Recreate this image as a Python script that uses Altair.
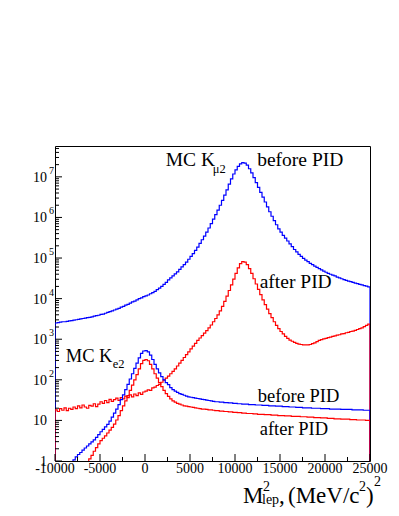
import altair as alt
import pandas as pd

# ---------------- data (log10 of counts per 250-unit bin) -------------
X_MIN, X_MAX, BIN_W = -10000, 25000, 250

kmu2_before = [
    3.40, 3.41, 3.42, 3.43, 3.43, 3.44, 3.45, 3.46, 3.47, 3.48,
    3.49, 3.50, 3.51, 3.52, 3.53, 3.54, 3.55, 3.57, 3.58, 3.59,
    3.61, 3.62, 3.64, 3.66, 3.68, 3.70, 3.72, 3.74, 3.76, 3.79,
    3.81, 3.84, 3.86, 3.89, 3.92, 3.94, 3.97, 4.00, 4.02, 4.05,
    4.07, 4.09, 4.12, 4.15, 4.18, 4.22, 4.26, 4.30, 4.35, 4.40,
    4.46, 4.51, 4.56, 4.61, 4.66, 4.72, 4.78, 4.84, 4.90, 4.97,
    5.04, 5.11, 5.19, 5.27, 5.36, 5.45, 5.54, 5.64, 5.74, 5.85,
    5.96, 6.07, 6.18, 6.30, 6.42, 6.55, 6.68, 6.82, 6.95, 7.07,
    7.17, 7.26, 7.32, 7.35, 7.34, 7.29, 7.20, 7.10, 6.98, 6.86,
    6.74, 6.62, 6.50, 6.38, 6.26, 6.14, 6.03, 5.92, 5.82, 5.72,
    5.64, 5.56, 5.49, 5.42, 5.35, 5.28, 5.21, 5.15, 5.09, 5.04,
    4.99, 4.95, 4.91, 4.87, 4.84, 4.80, 4.77, 4.74, 4.71, 4.68,
    4.65, 4.62, 4.60, 4.58, 4.56, 4.53, 4.51, 4.49, 4.47, 4.45,
    4.43, 4.42, 4.40, 4.38, 4.37, 4.35, 4.34, 4.32, 4.31, 4.29,
]

kmu2_after = [
    1.26, 1.22, 1.29, 1.25, 1.31, 1.24, 1.30, 1.27, 1.33, 1.29,
    1.36, 1.31, 1.38, 1.33, 1.30, 1.37, 1.35, 1.41, 1.34, 1.40,
    1.46, 1.42, 1.49, 1.44, 1.52, 1.47, 1.51, 1.55, 1.49, 1.56,
    1.53, 1.60, 1.56, 1.63, 1.58, 1.65, 1.61, 1.68, 1.64, 1.70,
    1.72, 1.75, 1.74, 1.80, 1.82, 1.86, 1.89, 1.94, 1.99, 2.04,
    2.09, 2.15, 2.21, 2.27, 2.34, 2.41, 2.48, 2.55, 2.62, 2.69,
    2.76, 2.83, 2.90, 2.97, 3.03, 3.09, 3.15, 3.21, 3.28, 3.35,
    3.43, 3.51, 3.60, 3.70, 3.81, 3.93, 4.06, 4.20, 4.34, 4.48,
    4.62, 4.76, 4.86, 4.91, 4.90, 4.84, 4.74, 4.62, 4.49, 4.36,
    4.23, 4.10, 3.97, 3.85, 3.74, 3.63, 3.53, 3.43, 3.34, 3.26,
    3.19, 3.13, 3.07, 3.02, 2.98, 2.95, 2.92, 2.90, 2.88, 2.87,
    2.86, 2.86, 2.86, 2.87, 2.89, 2.91, 2.94, 2.97, 2.99, 3.01,
    3.02, 3.04, 3.05, 3.07, 3.08, 3.10, 3.11, 3.13, 3.14, 3.16,
    3.17, 3.19, 3.20, 3.22, 3.24, 3.26, 3.28, 3.31, 3.34, 3.37,
]

ke2_before = [
    -0.3, -0.3, -0.3, -0.3, -0.3, -0.3, -0.3, -0.3, 0.03, 0.10,
    0.16, 0.21, 0.27, 0.32, 0.37, 0.42, 0.47, 0.52, 0.58, 0.65,
    0.72, 0.78, 0.84, 0.90, 0.98, 1.08, 1.18, 1.28, 1.39, 1.51,
    1.63, 1.76, 1.89, 2.02, 2.15, 2.28, 2.41, 2.54, 2.65, 2.71,
    2.72, 2.69, 2.61, 2.50, 2.38, 2.27, 2.17, 2.08, 2.00, 1.93,
    1.88, 1.81, 1.76, 1.72, 1.69, 1.66, 1.64, 1.62, 1.60, 1.58,
    1.57, 1.56, 1.55, 1.54, 1.53, 1.52, 1.51, 1.50, 1.49, 1.48,
    1.47, 1.46, 1.46, 1.45, 1.45, 1.44, 1.44, 1.43, 1.43, 1.42,
    1.42, 1.41, 1.41, 1.40, 1.40, 1.40, 1.39, 1.39, 1.39, 1.38,
    1.38, 1.38, 1.37, 1.37, 1.37, 1.36, 1.36, 1.36, 1.35, 1.35,
    1.35, 1.34, 1.34, 1.34, 1.33, 1.33, 1.33, 1.32, 1.32, 1.32,
    1.31, 1.31, 1.31, 1.31, 1.30, 1.30, 1.30, 1.30, 1.29, 1.29,
    1.29, 1.29, 1.28, 1.28, 1.28, 1.28, 1.28, 1.27, 1.27, 1.27,
    1.27, 1.27, 1.26, 1.26, 1.26, 1.26, 1.26, 1.25, 1.25, 1.25,
]

ke2_after = [
    -0.3, -0.3, -0.3, -0.3, -0.3, -0.3, -0.3, -0.3, -0.3, -0.3,
    -0.3, -0.3, -0.3, -0.3, -0.3, 0.05, 0.14, 0.24, 0.33, 0.42,
    0.50, 0.56, 0.62, 0.69, 0.76, 0.83, 0.91, 1.01, 1.12, 1.24,
    1.36, 1.48, 1.61, 1.74, 1.87, 2.00, 2.13, 2.27, 2.40, 2.48,
    2.50, 2.47, 2.38, 2.27, 2.15, 2.04, 1.93, 1.83, 1.74, 1.66,
    1.59, 1.53, 1.48, 1.45, 1.42, 1.40, 1.38, 1.36, 1.35, 1.34,
    1.33, 1.32, 1.31, 1.30, 1.29, 1.28, 1.28, 1.27, 1.26, 1.26,
    1.25, 1.24, 1.24, 1.23, 1.23, 1.22, 1.22, 1.21, 1.21, 1.20,
    1.20, 1.19, 1.19, 1.18, 1.18, 1.17, 1.17, 1.17, 1.16, 1.16,
    1.15, 1.15, 1.15, 1.14, 1.14, 1.14, 1.13, 1.13, 1.13, 1.12,
    1.12, 1.12, 1.11, 1.11, 1.11, 1.10, 1.10, 1.10, 1.10, 1.09,
    1.09, 1.09, 1.08, 1.08, 1.08, 1.07, 1.07, 1.07, 1.06, 1.06,
    1.06, 1.05, 1.05, 1.05, 1.04, 1.04, 1.04, 1.03, 1.03, 1.03,
    1.03, 1.02, 1.02, 1.02, 1.01, 1.01, 1.01, 1.01, 1.00, 1.00,
]

x_label_values = [-10000, -5000, 0, 5000, 10000, 15000, 20000, 25000]
y_decades = [0, 1, 2, 3, 4, 5, 6, 7]
y_base_labels = ["1", "10", "10", "10", "10", "10", "10", "10"]
y_exp_labels = ["", "", "2", "3", "4", "5", "6", "7"]

# upper annotations (K mu2)
ann_up_text = ["MC K", "before PID", "after PID"]
ann_up_x = [2300, 12467, 12744]
ann_up_y = [1.85e7, 1.85e7, 1.79e4]
# lower annotations (K e2)
ann_lo_text = ["MC K", "before PID", "after PID"]
ann_lo_x = [-8811, 12522, 12744]
ann_lo_y = [279, 28.4, 4.37]
ann_sub_text = ["\u03bc2", "e2"]
ann_sub_x = [7522, -3589]
ann_sub_y = [1.24e7, 190]

Y_TOP = 10 ** 7.76
FONT = "Liberation Serif"
W, H = 315, 315

# ---------------- build tables ----------------
edges = list(range(X_MIN, X_MAX, BIN_W))


def hist_frame(vals):
    xs_ = [X_MIN] + edges + [X_MAX]
    ys_ = [0.5] + [10 ** v for v in vals] + [0.5]
    return pd.DataFrame({"x": xs_, "y": ys_, "i": list(range(len(xs_)))})


xs = alt.Scale(domain=[X_MIN, X_MAX], nice=False, zero=False)
ys = alt.Scale(type="log", domain=[1, Y_TOP], nice=False)


def hist_layer(vals, color):
    return alt.Chart(hist_frame(vals)).mark_line(
        interpolate="step-after", clip=True, strokeWidth=1.2, color=color
    ).encode(
        x=alt.X("x:Q", scale=xs, axis=None),
        y=alt.Y("y:Q", scale=ys, axis=None),
        order=alt.Order("i:Q"),
    )


# ticks
x_major = pd.DataFrame({"v": x_label_values})
x_minor = pd.DataFrame({"v": [v + 2500 for v in x_label_values[:-1]]})
y_major = pd.DataFrame({"v": [10 ** d for d in y_decades]})
y_minor_vals = []
for d in y_decades:
    for m in range(2, 10):
        val = m * 10 ** d
        if val < Y_TOP:
            y_minor_vals.append(val)
y_minor = pd.DataFrame({"v": y_minor_vals})

xt_major = alt.Chart(x_major).mark_rule(color="black", strokeWidth=1).encode(
    x=alt.X("v:Q", scale=xs, axis=None), y=alt.value(H), y2=alt.value(H - 7))
xt_minor = alt.Chart(x_minor).mark_rule(color="black", strokeWidth=1).encode(
    x=alt.X("v:Q", scale=xs, axis=None), y=alt.value(H), y2=alt.value(H - 4))
yt_major = alt.Chart(y_major).mark_rule(color="black", strokeWidth=1).encode(
    y=alt.Y("v:Q", scale=ys, axis=None), x=alt.value(0), x2=alt.value(7))
yt_minor = alt.Chart(y_minor).mark_rule(color="black", strokeWidth=1).encode(
    y=alt.Y("v:Q", scale=ys, axis=None), x=alt.value(0), x2=alt.value(4))

# tick labels
xlab = alt.Chart(pd.DataFrame({"v": x_label_values, "t": [str(v) for v in x_label_values]})).mark_text(
    font=FONT, fontSize=14, color="black", align="center", baseline="middle"
).encode(x=alt.X("v:Q", scale=xs, axis=None), y=alt.value(H + 8), text="t:N")

ylab_df = pd.DataFrame({"v": [10 ** d for d in y_decades], "b": y_base_labels, "e": y_exp_labels})
ylab = alt.Chart(ylab_df).mark_text(
    font=FONT, fontSize=14, color="black", align="right", baseline="middle", dy=1
).encode(y=alt.Y("v:Q", scale=ys, axis=None), x=alt.value(-8), text="b:N")
yexp = alt.Chart(ylab_df).mark_text(
    font=FONT, fontSize=10, color="black", align="left", baseline="middle", dy=-6
).encode(y=alt.Y("v:Q", scale=ys, axis=None), x=alt.value(-6), text="e:N")

# annotations
ann_up = alt.Chart(pd.DataFrame({"x": ann_up_x, "y": ann_up_y, "t": ann_up_text})).mark_text(
    font=FONT, fontSize=19.5, color="black", align="left", baseline="alphabetic"
).encode(x=alt.X("x:Q", scale=xs, axis=None), y=alt.Y("y:Q", scale=ys, axis=None), text="t:N")
ann_lo = alt.Chart(pd.DataFrame({"x": ann_lo_x, "y": ann_lo_y, "t": ann_lo_text})).mark_text(
    font=FONT, fontSize=18.5, color="black", align="left", baseline="alphabetic"
).encode(x=alt.X("x:Q", scale=xs, axis=None), y=alt.Y("y:Q", scale=ys, axis=None), text="t:N")
ann_sub = alt.Chart(pd.DataFrame({"x": ann_sub_x, "y": ann_sub_y, "t": ann_sub_text})).mark_text(
    font=FONT, fontSize=12.5, color="black", align="left", baseline="alphabetic"
).encode(x=alt.X("x:Q", scale=xs, axis=None), y=alt.Y("y:Q", scale=ys, axis=None), text="t:N")


# x axis title pieces: M^2_lep, (MeV/c^2)^2
def title_piece(text, px, py, size):
    return alt.Chart(pd.DataFrame({"t": [text]})).mark_text(
        font=FONT, fontSize=size, color="black", align="left", baseline="alphabetic"
    ).encode(x=alt.value(px), y=alt.value(py), text="t:N")


title_layers = [
    title_piece("M", 188, 357, 23),
    title_piece("2", 208, 345, 14),
    title_piece("lep", 207, 358, 14),
    title_piece(",", 224, 357, 23),
    title_piece("(MeV/c", 233, 357, 23),
    title_piece("2", 304, 345, 14),
    title_piece(")", 311, 357, 23),
    title_piece("2", 319, 340, 14),
]

chart = alt.layer(
    hist_layer(kmu2_before, "#0000ff"),
    hist_layer(kmu2_after, "#ff0000"),
    hist_layer(ke2_before, "#0000ff"),
    hist_layer(ke2_after, "#ff0000"),
    xt_major, xt_minor, yt_major, yt_minor,
    xlab, ylab, yexp, ann_up, ann_lo, ann_sub,
    *title_layers,
).properties(
    width=W, height=H,
    padding={"left": 47, "top": 138, "right": 21, "bottom": 47},
    autosize=alt.AutoSizeParams(type="none"),
    background="white",
).configure_view(stroke="black", strokeWidth=1)

chart.save("out.html", embed_options={"renderer": "svg", "actions": False})
